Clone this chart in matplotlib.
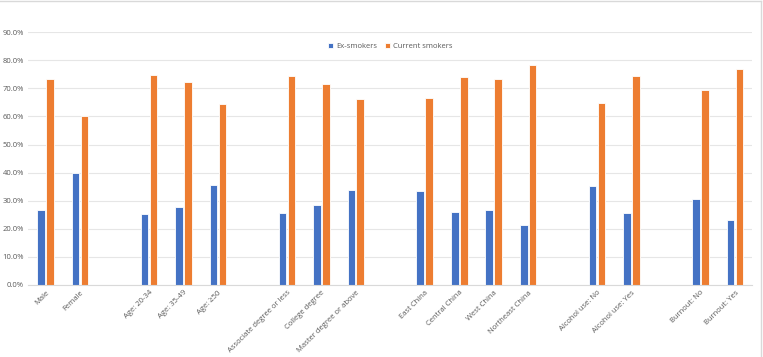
import matplotlib
matplotlib.use('Agg')
import matplotlib.pyplot as plt
from matplotlib.lines import Line2D
import numpy as np

categories = ['Male', 'Female', '',
              'Age: 20-34', 'Age: 35-49', 'Age: \u226550', '',
              'Associate degree or less', 'College degree', 'Master degree or above', '',
              'East China', 'Central China', 'West China', 'Northeast China', '',
              'Alcohol use: No', 'Alcohol use: Yes', '',
              'Burnout: No', 'Burnout: Yes']

ex_smokers = [26.7, 39.9, None,
              25.3, 27.6, 35.6, None,
              25.6, 28.6, 33.8, None,
              33.3, 26.0, 26.7, 21.2, None,
              35.2, 25.5, None,
              30.5, 23.1]

current_smokers = [73.4, 60.0, None,
                   74.6, 72.2, 64.3, None,
                   74.3, 71.4, 66.1, None,
                   66.7, 74.1, 73.4, 78.2, None,
                   64.7, 74.4, None,
                   69.6, 76.8]

blue = '#4472C4'
orange = '#ED7D31'
grey = '#595959'

plt.rcParams['font.family'] = ['Open Sans', 'DejaVu Sans']

fig = plt.figure(figsize=(7.63, 3.57), dpi=100)
ax = fig.add_axes([0.037, 0.2017, 0.949, 0.708])

x = np.arange(len(categories))
w = 0.22
ex_vals = [np.nan if v is None else v / 100 for v in ex_smokers]
cur_vals = [np.nan if v is None else v / 100 for v in current_smokers]
ax.bar(x - 0.13, ex_vals, w, color=blue, edgecolor='white', linewidth=0.6, label='Ex-smokers')
ax.bar(x + 0.13, cur_vals, w, color=orange, edgecolor='white', linewidth=0.6, label='Current smokers')

ax.set_xlim(-0.5, len(categories) - 0.5)
ax.set_ylim(0, 0.9)
ax.set_yticks(np.arange(0, 0.91, 0.1))
ax.set_yticklabels(['%.1f%%' % (t * 100) for t in np.arange(0, 0.91, 0.1)],
                   fontsize=5.5, color=grey)
ax.set_xticks(x)
ax.set_xticklabels(categories, rotation=45, ha='right', rotation_mode='anchor',
                   fontsize=5.5, color=grey)
ax.tick_params(axis='both', length=0, pad=3)
ax.grid(axis='y', color='#E6E6E6', linewidth=0.8)
ax.set_axisbelow(True)
for s in ['top', 'right', 'left']:
    ax.spines[s].set_visible(False)
ax.spines['bottom'].set_color('#D9D9D9')

ax.legend(loc='upper center', bbox_to_anchor=(0.5, 0.985), ncol=2, frameon=False,
          fontsize=5.5, labelcolor=grey, handlelength=0.7, handleheight=0.7,
          handletextpad=0.4, columnspacing=1.0)

# light frame on top and right, as in the cropped original
fig.add_artist(Line2D([0, 0.997], [0.997, 0.997], transform=fig.transFigure,
                      color='#D9D9D9', linewidth=1.0))
fig.add_artist(Line2D([0.997, 0.997], [0, 0.997], transform=fig.transFigure,
                      color='#D9D9D9', linewidth=1.0))

fig.savefig('out.png', dpi=100)
